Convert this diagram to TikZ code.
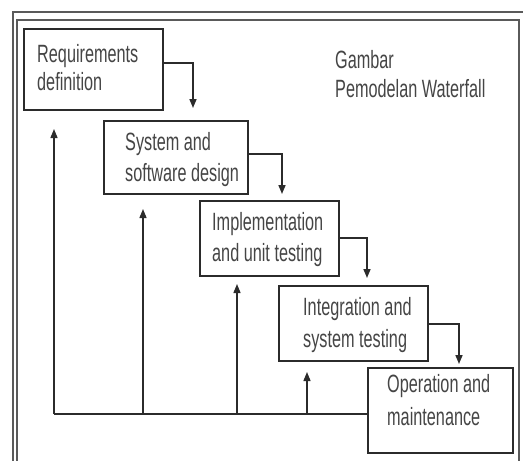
\documentclass[tikz,border=0pt]{standalone}
\usepackage{fontspec}
\setmainfont[FakeStretch=0.65]{Liberation Sans}
\usetikzlibrary{arrows.meta}
\definecolor{ink}{HTML}{2B2B2B}
\definecolor{txt}{HTML}{454545}
\definecolor{frm}{HTML}{5A5A5A}
\tikzset{
  phase/.style={draw=ink, line width=2pt, anchor=north west, inner sep=0pt},
  lbl/.style={anchor=base west, inner sep=0pt, text=txt, font=\fontsize{25}{30}\selectfont},
  flow/.style={draw=ink, line width=1.6pt, -{Triangle[length=9pt,width=7pt]}},
  back/.style={draw=ink, line width=1.4pt, -{Triangle[length=9pt,width=7pt]}},
  frame/.style={draw=frm, line width=1.3pt}
}
\begin{document}
\begin{tikzpicture}[x=1pt,y=-1pt]
\useasboundingbox (0,0) rectangle (523,461);
% frame
\draw[frame] (13,461) -- (13,12) -- (523,12);
\draw[frame] (17,461) -- (17,20) -- (519,20) -- (519,461);
% boxes
\node[phase, minimum width=139pt, minimum height=81pt] (req) at (23,28) {};
\node[phase, minimum width=144pt, minimum height=73pt] (sys) at (103,120) {};
\node[phase, minimum width=139pt, minimum height=75pt] (impl) at (199,200) {};
\node[phase, minimum width=149pt, minimum height=75pt] (integ) at (278,285) {};
\node[phase, minimum width=145pt, minimum height=85pt] (op) at (367,367) {};
% labels
\node[lbl] (t1a) at (37,62) {Requirements};
\node[lbl] (t1b) at (37,90) {definition};
\node[lbl] (t2a) at (125,150) {System and};
\node[lbl] (t2b) at (125,181) {software design};
\node[lbl] (t3a) at (212,230) {Implementation};
\node[lbl] (t3b) at (212,261) {and unit testing};
\node[lbl] (t4a) at (303,315) {Integration and};
\node[lbl] (t4b) at (303,347) {system testing};
\node[lbl] (t5a) at (387,392) {Operation and};
\node[lbl] (t5b) at (387,425) {maintenance};
\node[lbl] (g1) at (335,68) {Gambar};
\node[lbl] (g2) at (335,97) {Pemodelan Waterfall};
% tips of flow arrows
\coordinate (f1) at (193,108);
\coordinate (f2) at (282,194);
\coordinate (f3) at (367,278);
\coordinate (f4) at (459,364);
\draw[flow] (req.east |- 0,63) -| (f1);
\draw[flow] (sys.east |- 0,154) -| (f2);
\draw[flow] (impl.east |- 0,238) -| (f3);
\draw[flow] (integ.east |- 0,324) -| (f4);
% feedback
\coordinate (b0) at (54,414);
\coordinate (b1) at (143,414);
\coordinate (b2) at (237,414);
\coordinate (b3) at (307,414);
\draw[draw=ink, line width=1.4pt] (op.west |- b0) -- (b0);
\draw[back] (b0) -- (54,129);
\draw[back] (b1) -- (143,209);
\draw[back] (b2) -- (237,284);
\draw[back] (b3) -- (307,372);
\end{tikzpicture}
\end{document}
